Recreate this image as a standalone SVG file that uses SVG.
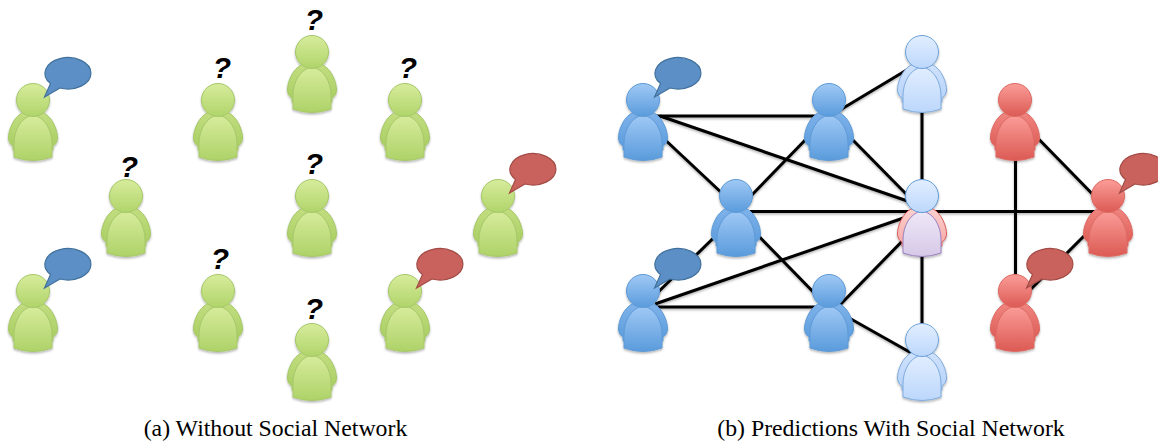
<svg xmlns="http://www.w3.org/2000/svg" width="1158" height="443" viewBox="0 0 1158 443">
<style>
.q{font-family:"Liberation Sans",sans-serif;font-weight:700;font-style:italic;font-size:30px;fill:#000;text-anchor:middle}
.cap{font-family:"Liberation Serif",serif;font-size:23.8px;fill:#000;text-anchor:middle}
.edge{stroke:#000;stroke-width:3;fill:none}
.bb{fill:#5b8fc5;stroke:#41719c;stroke-width:1.2}
.br{fill:#c9625c;stroke:#a34b46;stroke-width:1.2}
.pg .arm{fill:url(#ga);stroke:#a6c86a}.pg .body{fill:url(#gb);stroke:#a6c86a}.pg .head{fill:url(#gh);stroke:#a6c86a}
.pb .arm{fill:url(#ba);stroke:#5f9bd6}.pb .body{fill:url(#bb);stroke:#5f9bd6}.pb .head{fill:url(#bh);stroke:#5f9bd6}
.pl .arm{fill:url(#la);stroke:#7fabdc}.pl .body{fill:url(#lb);stroke:#7fabdc}.pl .head{fill:url(#lh);stroke:#6fa3d8}
.pr .arm{fill:url(#ra);stroke:#dd6a64}.pr .body{fill:url(#rb);stroke:#dd6a64}.pr .head{fill:url(#rh);stroke:#dd6a64}
.pm .arm{fill:url(#ma);stroke:#d9605c}.pm .body{fill:url(#mb);stroke:#9a80bd}.pm .head{fill:url(#lh);stroke:#5f9bd6}
</style>
<defs>
<filter id="sh" x="-20%" y="-20%" width="140%" height="140%"><feDropShadow dx="0" dy="1.5" stdDeviation="1.2" flood-color="#000" flood-opacity="0.3"/></filter>
<linearGradient id="gh" x1="0" y1="0" x2="0" y2="1"><stop offset="0" stop-color="#d7ec9c"/><stop offset="1" stop-color="#b0d46a"/></linearGradient>
<linearGradient id="gb" x1="0" y1="0" x2="0" y2="1"><stop offset="0" stop-color="#d7ec9c"/><stop offset="1" stop-color="#aed268"/></linearGradient>
<linearGradient id="ga" x1="0" y1="0" x2="0" y2="1"><stop offset="0" stop-color="#c2de80"/><stop offset="1" stop-color="#a7cc60"/></linearGradient>
<linearGradient id="bh" x1="0" y1="0" x2="0" y2="1"><stop offset="0" stop-color="#a0c9f5"/><stop offset="1" stop-color="#5a9bdc"/></linearGradient>
<linearGradient id="bb" x1="0" y1="0" x2="0" y2="1"><stop offset="0" stop-color="#a0c9f5"/><stop offset="1" stop-color="#5a9bdc"/></linearGradient>
<linearGradient id="ba" x1="0" y1="0" x2="0" y2="1"><stop offset="0" stop-color="#7fb2ea"/><stop offset="1" stop-color="#5a9bdc"/></linearGradient>
<linearGradient id="lh" x1="0" y1="0" x2="0" y2="1"><stop offset="0" stop-color="#e2eeff"/><stop offset="1" stop-color="#bcd7fc"/></linearGradient>
<linearGradient id="lb" x1="0" y1="0" x2="0" y2="1"><stop offset="0" stop-color="#e2eeff"/><stop offset="1" stop-color="#bcd7fc"/></linearGradient>
<linearGradient id="la" x1="0" y1="0" x2="0" y2="1"><stop offset="0" stop-color="#cfe2fd"/><stop offset="1" stop-color="#b5d2fa"/></linearGradient>
<linearGradient id="rh" x1="0" y1="0" x2="0" y2="1"><stop offset="0" stop-color="#fb9d98"/><stop offset="1" stop-color="#dc5a54"/></linearGradient>
<linearGradient id="rb" x1="0" y1="0" x2="0" y2="1"><stop offset="0" stop-color="#fb9d98"/><stop offset="1" stop-color="#dc5a54"/></linearGradient>
<linearGradient id="ra" x1="0" y1="0" x2="0" y2="1"><stop offset="0" stop-color="#f08580"/><stop offset="1" stop-color="#dc5a54"/></linearGradient>
<linearGradient id="mb" x1="0" y1="0" x2="0" y2="1"><stop offset="0" stop-color="#efe8f7"/><stop offset="1" stop-color="#d6c9e8"/></linearGradient>
<linearGradient id="ma" x1="0" y1="0" x2="0" y2="1"><stop offset="0" stop-color="#fdd0ce"/><stop offset="1" stop-color="#f5a9a6"/></linearGradient>
<g id="pg" class="pg" filter="url(#sh)"><path class="arm" d="M-11 13C-19 17-25 30-24.5 39Q-24 44-20 46L-20 50L20 50L20 46Q24 44 24.5 39C25 30 19 17 11 13Z"/><path class="body" d="M-19 44C-19 30-12 17 0 15C12 17 19 30 19 44L19 57Q0 64-19 57Z"/><circle class="head" r="16.5"/></g>
<g id="pb" class="pb" filter="url(#sh)"><path class="arm" d="M-11 13C-19 17-25 30-24.5 39Q-24 44-20 46L-20 50L20 50L20 46Q24 44 24.5 39C25 30 19 17 11 13Z"/><path class="body" d="M-19 44C-19 30-12 17 0 15C12 17 19 30 19 44L19 57Q0 64-19 57Z"/><circle class="head" r="16.5"/></g>
<g id="pl" class="pl" filter="url(#sh)"><path class="arm" d="M-11 13C-19 17-25 30-24.5 39Q-24 44-20 46L-20 50L20 50L20 46Q24 44 24.5 39C25 30 19 17 11 13Z"/><path class="body" d="M-19 44C-19 30-12 17 0 15C12 17 19 30 19 44L19 57Q0 64-19 57Z"/><circle class="head" r="16.5"/></g>
<g id="pr" class="pr" filter="url(#sh)"><path class="arm" d="M-11 13C-19 17-25 30-24.5 39Q-24 44-20 46L-20 50L20 50L20 46Q24 44 24.5 39C25 30 19 17 11 13Z"/><path class="body" d="M-19 44C-19 30-12 17 0 15C12 17 19 30 19 44L19 57Q0 64-19 57Z"/><circle class="head" r="16.5"/></g>
<g id="pm" class="pm" filter="url(#sh)"><path class="arm" d="M-11 13C-19 17-25 30-24.5 39Q-24 44-20 46L-20 50L20 50L20 46Q24 44 24.5 39C25 30 19 17 11 13Z"/><path class="body" d="M-19 44C-19 30-12 17 0 15C12 17 19 30 19 44L19 57Q0 64-19 57Z"/><circle class="head" r="16.5"/></g>
<path id="bubble" d="M27-12L11.5-3L17.5-16.5A23 15.7 0 1 1 27-12Z"/>
</defs>
<g id="connectors" filter="url(#sh)">
<path class="edge" d="M655 116H815"/>
<path class="edge" d="M660 116L922 206"/>
<path class="edge" d="M660 135L725 196"/>
<path class="edge" d="M745 202L812 133"/>
<path class="edge" d="M835 113L915 65"/>
<path class="edge" d="M845 132L915 203"/>
<path class="edge" d="M922 60V190"/>
<path class="edge" d="M750 211.500H1095"/>
<path class="edge" d="M736 216L650 300"/>
<path class="edge" d="M745 222L825 304"/>
<path class="edge" d="M655 304L915 214"/>
<path class="edge" d="M655 307H815"/>
<path class="edge" d="M835 310L915 228"/>
<path class="edge" d="M835 310L922 359"/>
<path class="edge" d="M922 240V335"/>
<path class="edge" d="M1015.500 150V280"/>
<path class="edge" d="M1025 125L1108 210"/>
<path class="edge" d="M1100 220L1020 300"/>
</g>
<g id="q1"><text class="q" x="222" y="78">?</text></g>
<g id="q2"><text class="q" x="314" y="30">?</text></g>
<g id="q3"><text class="q" x="408" y="78">?</text></g>
<g id="q4"><text class="q" x="129" y="177">?</text></g>
<g id="q5"><text class="q" x="314" y="174">?</text></g>
<g id="q6"><text class="q" x="220" y="269">?</text></g>
<g id="q7"><text class="q" x="314" y="319">?</text></g>
<g id="a1" transform="translate(33 100)"><use href="#pg"/><use href="#bubble" class="bb"/></g>
<g id="a2" transform="translate(126 196)"><use href="#pg"/></g>
<g id="a3" transform="translate(33 291)"><use href="#pg"/><use href="#bubble" class="bb"/></g>
<g id="a4" transform="translate(218 100)"><use href="#pg"/></g>
<g id="a5" transform="translate(218 291)"><use href="#pg"/></g>
<g id="a6" transform="translate(312 52)"><use href="#pg"/></g>
<g id="a7" transform="translate(312 196)"><use href="#pg"/></g>
<g id="a8" transform="translate(312 340)"><use href="#pg"/></g>
<g id="a9" transform="translate(405 100)"><use href="#pg"/></g>
<g id="a10" transform="translate(405 291)"><use href="#pg"/><use href="#bubble" class="br"/></g>
<g id="a11" transform="translate(498 196)"><use href="#pg"/><use href="#bubble" class="br"/></g>
<g id="b1" transform="translate(643 100)"><use href="#pb"/><use href="#bubble" class="bb"/></g>
<g id="b2" transform="translate(829 100)"><use href="#pb"/></g>
<g id="b3" transform="translate(736 196)"><use href="#pb"/></g>
<g id="b4" transform="translate(643 291)"><use href="#pb"/><use href="#bubble" class="bb"/></g>
<g id="b5" transform="translate(829 291)"><use href="#pb"/></g>
<g id="b6" transform="translate(922 52)"><use href="#pl"/></g>
<g id="b7" transform="translate(922 196)"><use href="#pm"/></g>
<g id="b8" transform="translate(922 340)"><use href="#pl"/></g>
<g id="b9" transform="translate(1015 100)"><use href="#pr"/></g>
<g id="b10" transform="translate(1108 196)"><use href="#pr"/><use href="#bubble" class="br"/></g>
<g id="b11" transform="translate(1015 291)"><use href="#pr"/><use href="#bubble" class="br"/></g>
<text class="cap" x="275.500" y="436">(a) Without Social Network</text>
<text class="cap" x="891" y="436">(b) Predictions With Social Network</text>
</svg>
